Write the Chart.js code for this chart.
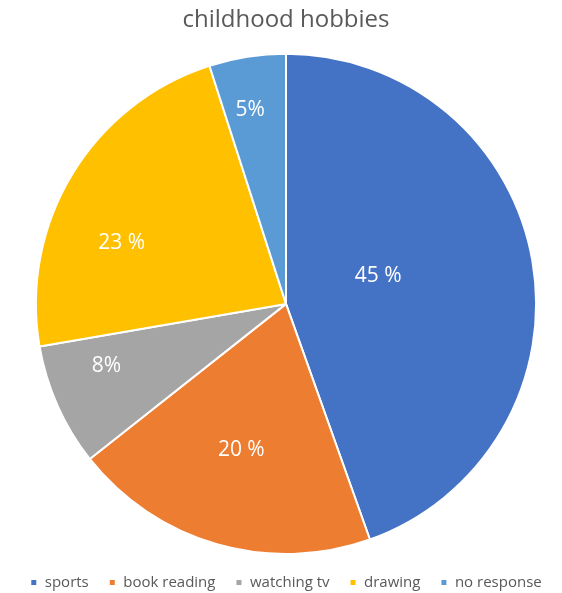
<!DOCTYPE html>
<html>
<head>
<meta charset="utf-8">
<script src="https://cdn.jsdelivr.net/npm/chart.js@4"></script>
<style>
  html, body { margin: 0; padding: 0; background: #fff; }
  #wrap { width: 562px; height: 593px; }
</style>
</head>
<body>
<div id="wrap"><canvas id="c" width="562" height="593"></canvas></div>
<script>
// data
const categories = ["sports", "book reading", "watching tv", "drawing", "no response"];
const shares = [45, 20, 8, 23, 5];
const shareLabels = ["45 %", "20 %", "8%", "23 %", "5%"];

const sliceColors = ["#4472C4", "#ED7D31", "#A5A5A5", "#FFC000", "#5B9BD5"];
// label placement inside each slice (Excel "best fit" look):
// distance as a fraction of the radius, and a small turn off the mid angle in degrees
const labelDepth = [0.385, 0.61, 0.76, 0.70, 0.79];
const labelTurn = [-7, 1, 5, -11, -1.5];

const FONT = "'Open Sans', sans-serif";

// draws the percentage text inside each slice
const sliceLabels = {
    id: "sliceLabels",
    afterDatasetsDraw(chart) {
        const ctx = chart.ctx;
        const meta = chart.getDatasetMeta(0);
        ctx.save();
        ctx.fillStyle = "#ffffff";
        ctx.font = "21px " + FONT;
        ctx.textAlign = "center";
        ctx.textBaseline = "middle";
        meta.data.forEach((arc, i) => {
            const p = arc.getProps(["x", "y", "startAngle", "endAngle", "outerRadius"], true);
            const mid = (p.startAngle + p.endAngle) / 2 + labelTurn[i] * Math.PI / 180;
            const r = p.outerRadius * labelDepth[i];
            ctx.fillText(shareLabels[i], p.x + Math.cos(mid) * r, p.y + Math.sin(mid) * r);
        });
        ctx.restore();
    },
};

new Chart(document.getElementById("c"), {
    type: "pie",
    data: {
        labels: categories,
        datasets: [{
            data: shares,
            backgroundColor: sliceColors,
            borderColor: "#ffffff",
            borderWidth: 2,
        }],
    },
    options: {
        responsive: false,
        animation: false,
        layout: { padding: { left: 10, right: 0, top: 0, bottom: -7 } },
        plugins: {
            title: {
                display: true,
                text: "childhood hobbies",
                color: "#595959",
                font: { family: FONT, size: 24, weight: "normal" },
                padding: { top: 6, bottom: 18 },
            },
            legend: {
                position: "bottom",
                labels: {
                    color: "#595959",
                    font: { family: FONT, size: 15 },
                    boxWidth: 7,
                    boxHeight: 7,
                    padding: 20,
                },
            },
            tooltip: { enabled: false },
        },
    },
    plugins: [sliceLabels],
});
</script>
</body>
</html>
